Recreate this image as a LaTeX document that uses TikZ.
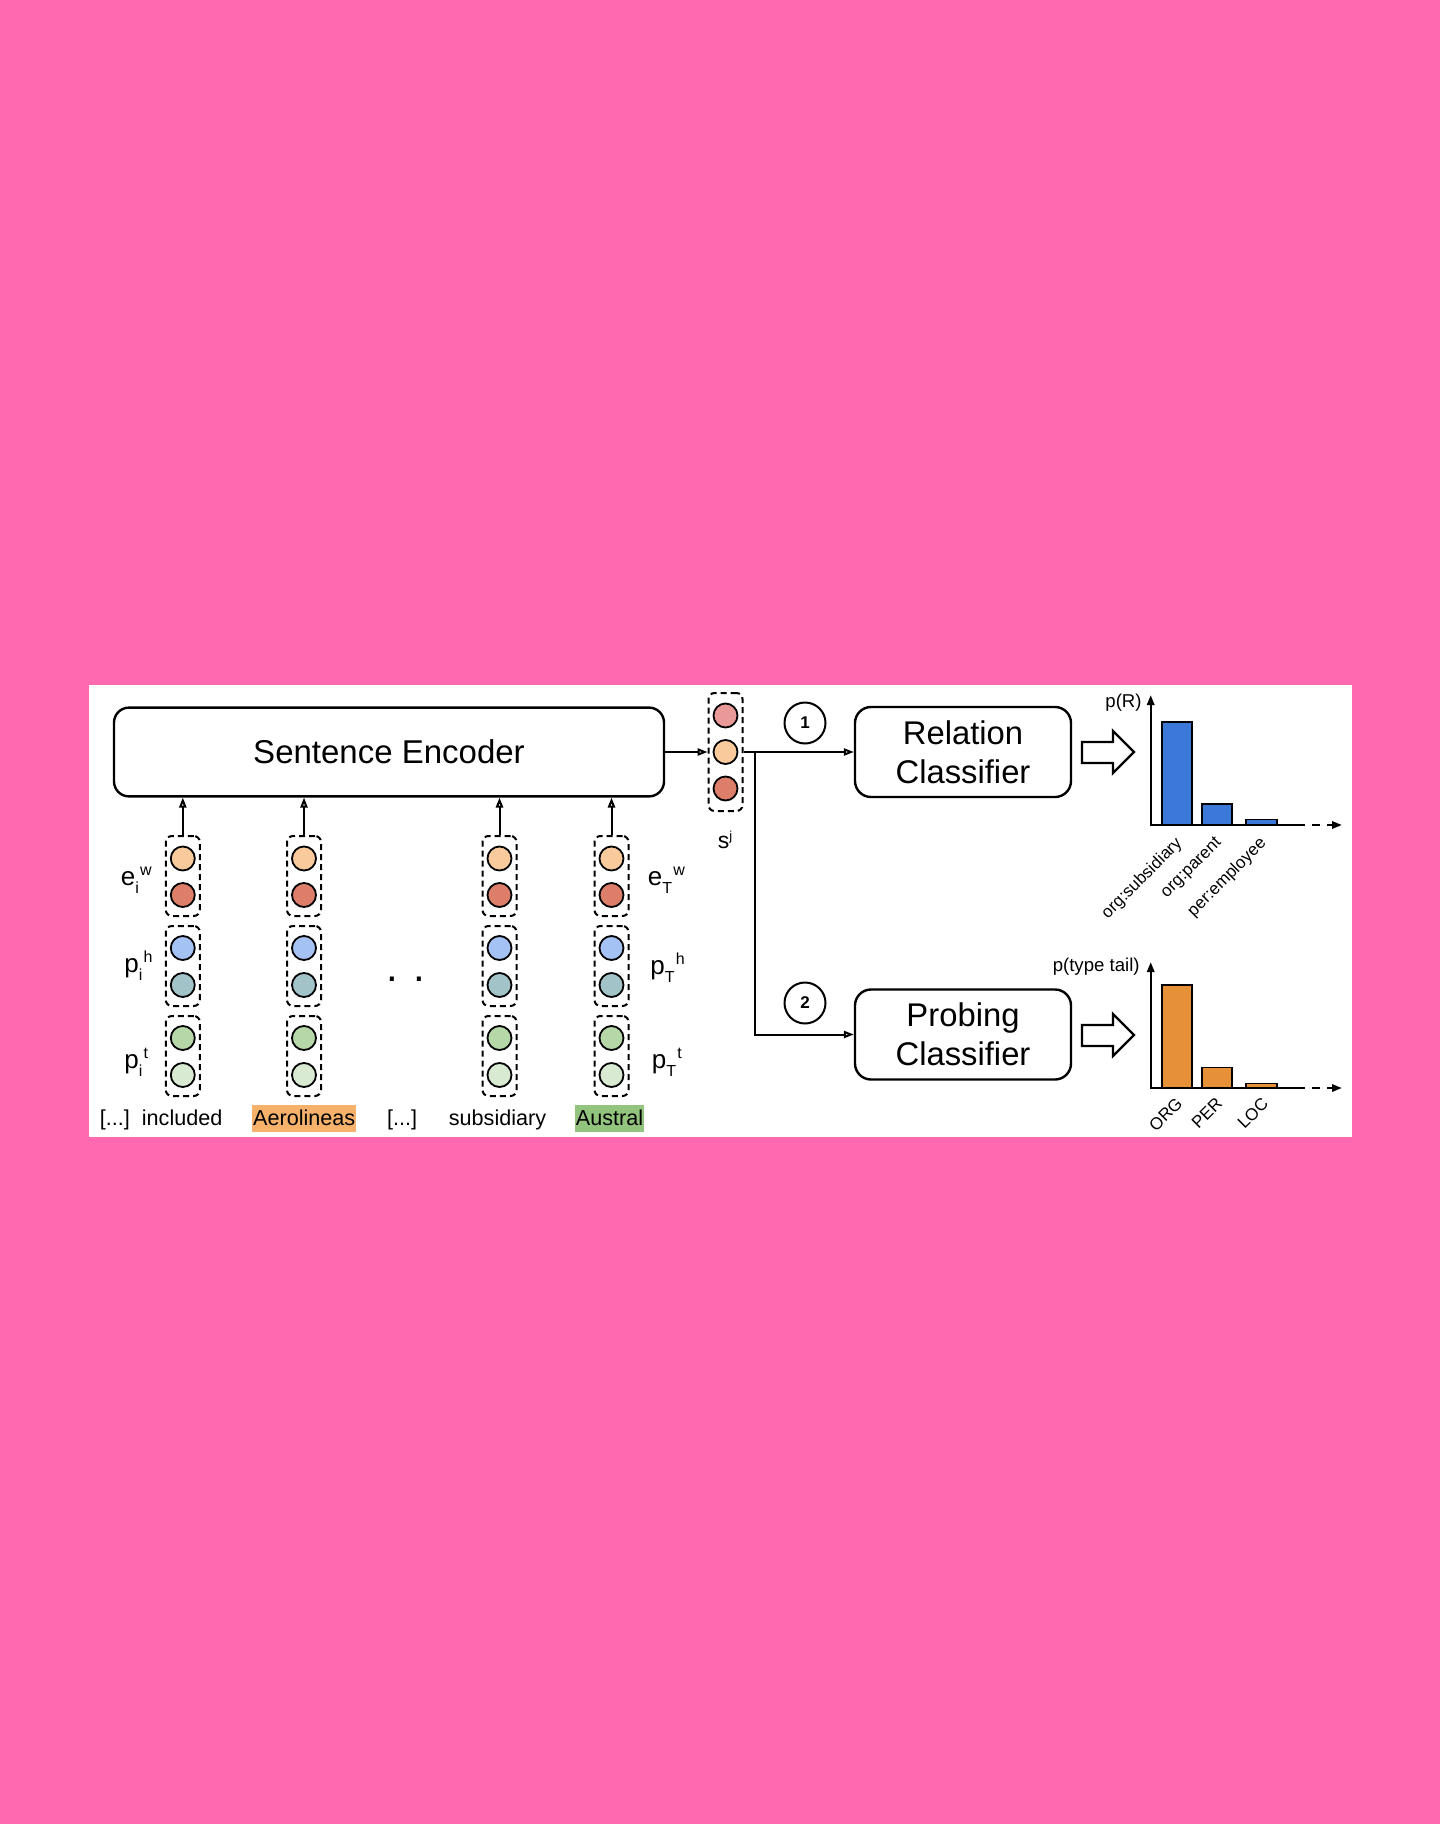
\documentclass[tikz,border=0pt]{standalone}
\usepackage{fontspec}
\setmainfont{Liberation Sans}
\usetikzlibrary{arrows.meta}
\definecolor{bgpink}{HTML}{FF69B0}
\definecolor{cpeach}{HTML}{F9CB9C}
\definecolor{cred}{HTML}{DD7E6B}
\definecolor{cblue}{HTML}{A4C2F4}
\definecolor{cteal}{HTML}{A2C4C9}
\definecolor{cgreen}{HTML}{B6D7A8}
\definecolor{clgreen}{HTML}{D9EAD3}
\definecolor{cpink}{HTML}{EA9999}
\definecolor{hlorange}{HTML}{F6B26B}
\definecolor{hlgreen}{HTML}{93C47D}
\definecolor{barblue}{HTML}{3C78D8}
\definecolor{barorange}{HTML}{E69138}
\newcommand\lbl[3]{#1\raisebox{-4.2pt}{\fontsize{8}{9}\selectfont #2}\hspace{0.6pt}\raisebox{5pt}{\fontsize{8}{9}\selectfont #3}}
\tikzset{
  encbox/.style={draw, line width=1.2pt, rounded corners=7.5pt, minimum width=275pt, minimum height=44.4pt, font=\fontsize{16.5}{19}\selectfont},
  clsbox/.style={draw, line width=1.2pt, rounded corners=8pt, minimum width=108pt, minimum height=45pt, align=center, font=\fontsize{16.4}{19.5}\selectfont},
  dbox/.style={draw, dash pattern=on 3pt off 2pt, line width=1pt, rounded corners=3pt, minimum width=17pt, minimum height=40pt, inner sep=0},
  unit/.style={circle, draw, line width=0.9pt, minimum size=12pt, inner sep=0},
  arr/.style={-{Triangle[open,length=5pt,width=3.6pt]}, line width=1pt},
  numc/.style={circle, draw, line width=1pt, minimum size=20.5pt, inner sep=0, font=\bfseries\fontsize{8.5}{10}\selectfont},
  vlab/.style={anchor=base west, inner sep=0, font=\fontsize{13}{15}\selectfont},
  word/.style={anchor=base, inner sep=0, font=\fontsize{10.8}{12}\selectfont},
  hl/.style={word, inner xsep=0.6pt, text height=10.5pt, text depth=3.3pt},
  axis/.style={line width=1.2pt},
  bar/.style={draw, line width=0.8pt},
  rlab/.style={rotate=45, anchor=north east, inner sep=0, font=\fontsize{8.5}{10}\selectfont},
  plab/.style={anchor=east, inner sep=0, font=\fontsize{9.3}{11}\selectfont},
  barrow/.style={draw, line width=1.1pt, fill=white}
}
\begin{document}
\begin{tikzpicture}[x=0.5pt,y=-0.5pt]
\useasboundingbox (0,0) rectangle (1440,1824);
\fill[bgpink] (0,0) rectangle (1440,1824);
\fill[white] (89,685) rectangle (1352,1137);

% encoder
\node[encbox] (enc) at (389,752) {Sentence Encoder};

% token columns
\foreach \x [count=\i] in {182.8,304,499.5,611.5} {
  \node[dbox] (bw\i) at (\x,876) {};
  \node[unit, fill=cpeach] (cwa\i) at (\x,858.5) {};
  \node[unit, fill=cred] (cwb\i) at (\x,895) {};
  \node[dbox] (bh\i) at (\x,966) {};
  \node[unit, fill=cblue] (cha\i) at (\x,948) {};
  \node[unit, fill=cteal] (chb\i) at (\x,985) {};
  \node[dbox] (bt\i) at (\x,1056) {};
  \node[unit, fill=cgreen] (cta\i) at (\x,1038) {};
  \node[unit, fill=clgreen] (ctb\i) at (\x,1075) {};
  \draw[arr] (bw\i.north) -- (bw\i.north |- enc.south);
}

% side labels
\node[vlab] (lew) at (120.5,885) {\lbl{e}{i}{w}};
\node[vlab] (lph) at (124,972) {\lbl{p}{i}{h}};
\node[vlab] (lpt) at (124,1068) {\lbl{p}{i}{t}};
\node[vlab] (rew) at (647.5,885) {\lbl{e}{T}{w}};
\node[vlab] (rph) at (650,974) {\lbl{p}{T}{h}};
\node[vlab] (rpt) at (651.5,1068) {\lbl{p}{T}{t}};

% dots
\node[anchor=base, inner sep=0, font=\fontsize{21}{22}\selectfont] (dots) at (406,981) {. .};

% words
\node[word, anchor=base west] (w1) at (99.5,1125.5) {[...]\ \ included};
\node[hl, fill=hlorange] (w2) at (304.2,1125.5) {Aerolineas};
\node[word] (w3) at (402,1125.5) {[...]};
\node[word] (w4) at (497.5,1125.5) {subsidiary};
\node[hl, fill=hlgreen] (w5) at (609.5,1125.5) {Austral};

% sentence vector
\node[dbox, minimum height=59pt] (sbox) at (725.5,752) {};
\node[unit, fill=cpink] (sa) at (725.5,715.5) {};
\node[unit, fill=cpeach] (sb) at (725.5,752) {};
\node[unit, fill=cred] (sc) at (725.5,788.5) {};
\node[anchor=base west, inner sep=0, font=\fontsize{11.5}{13}\selectfont] (slab) at (717.5,848.3) {s\raisebox{3.9pt}{\fontsize{6.5}{7}\selectfont j}};

\draw[arr] (enc.east) -- (sbox.west);

% classifiers
\node[clsbox] (rel) at (963,752) {Relation\\Classifier};
\node[clsbox] (prob) at (963,1034.5) {Probing\\Classifier};
\coordinate (br) at (755,752);
\draw[arr] (sbox.east) -- (rel.west);
\draw[arr] (br) |- (prob.west);

\node[numc] (n1) at (805,723) {1};
\node[numc] (n2) at (805,1003) {2};

% block arrows
\draw[barrow] (1082,742) -- (1113,742) -- (1113,731) -- (1134,752) -- (1113,773) -- (1113,763) -- (1082,763) -- cycle;
\draw[barrow] (1082,1025) -- (1113,1025) -- (1113,1014) -- (1134,1035) -- (1113,1056) -- (1113,1046) -- (1082,1046) -- cycle;

% chart 1
\draw[bar, fill=barblue] (1161.7,825) rectangle (1191.7,721.7);
\draw[bar, fill=barblue] (1201.7,825) rectangle (1231.7,804);
\draw[bar, fill=barblue] (1246,825) rectangle (1276.7,819.3);
\draw[axis, -{Triangle[open,length=5pt,width=3.6pt]}] (1150.7,826) -- (1150.7,695);
\draw[axis] (1150.7,825) -- (1297,825);
\draw[axis, dash pattern=on 4pt off 3.5pt, -{Triangle[open,length=5pt,width=3.6pt]}] (1297,825) -- (1342,825);
\node[plab] (pr) at (1142,703) {p(R)};
\node[rlab] (r1) at (1174,835) {org:subsidiary};
\node[rlab] (r2) at (1214,835) {org:parent};
\node[rlab] (r3) at (1258,835) {per:employee};

% chart 2
\draw[bar, fill=barorange] (1161.7,1088) rectangle (1191.7,985);
\draw[bar, fill=barorange] (1201.7,1088) rectangle (1231.7,1067.3);
\draw[bar, fill=barorange] (1246,1088) rectangle (1276.7,1083.3);
\draw[axis, -{Triangle[open,length=5pt,width=3.6pt]}] (1150.7,1089) -- (1150.7,962);
\draw[axis] (1150.7,1088) -- (1297,1088);
\draw[axis, dash pattern=on 4pt off 3.5pt, -{Triangle[open,length=5pt,width=3.6pt]}] (1297,1088) -- (1342,1088);
\node[plab] (pt) at (1140,967) {p(type tail)};
\node[rlab] (t1) at (1175,1096) {ORG};
\node[rlab] (t2) at (1215,1096) {PER};
\node[rlab] (t3) at (1261,1096) {LOC};
\end{tikzpicture}
\end{document}
